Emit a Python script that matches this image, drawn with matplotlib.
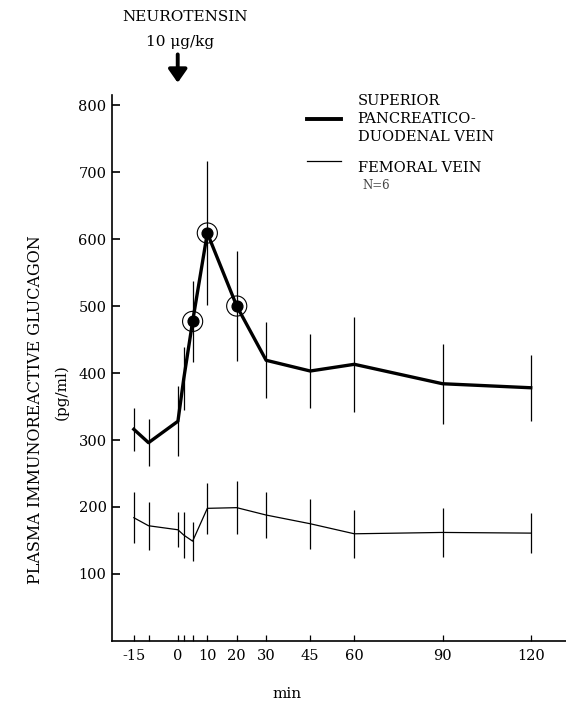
import numpy as np
import matplotlib
matplotlib.use("Agg")
import matplotlib.pyplot as plt

# sampling times (min) and values (pg/ml)
minutes = [-15, -10, 0, 2, 5, 10, 20, 30, 45, 60, 90, 120]
spdv_mean = [316, 296, 328, 392, 477, 609, 500, 419, 403, 413, 384, 378]
spdv_err = [32, 35, 52, 47, 61, 108, 82, 57, 55, 71, 60, 49]
femoral_mean = [184, 172, 166, 158, 149, 198, 199, 188, 175, 160, 162, 161]
femoral_err = [38, 36, 26, 34, 29, 38, 40, 35, 37, 36, 36, 30]
significant = [5, 10, 20]
tick_labels = {-15: "-15", 0: "0", 10: "10", 20: "20", 30: "30", 45: "45",
               60: "60", 90: "90", 120: "120"}
yticks = [100, 200, 300, 400, 500, 600, 700, 800]

plt.rcParams['font.family'] = ['DejaVu Serif']

fig = plt.figure(figsize=(5.66, 7.07), dpi=100)
ax = fig.add_axes([0.198, 0.0934, 0.802, 0.7722])

ax.errorbar(minutes, spdv_mean, yerr=spdv_err, color='black', lw=2.4,
            elinewidth=0.9, capsize=0, zorder=3)
ax.errorbar(minutes, femoral_mean, yerr=femoral_err, color='black', lw=0.9,
            elinewidth=0.9, capsize=0, zorder=3)

# significant points: filled dot with ring
sig_vals = [spdv_mean[minutes.index(t)] for t in significant]
ax.scatter(significant, sig_vals, s=60, color='black', zorder=4)
ax.scatter(significant, sig_vals, s=210, facecolors='none', edgecolors='black',
           linewidths=0.8, zorder=4)

ax.set_xlim(-22.4, 132)
ax.set_ylim(0, 815)
ax.spines['top'].set_visible(False)
ax.spines['right'].set_visible(False)
ax.spines['left'].set_linewidth(1.2)
ax.spines['bottom'].set_linewidth(1.2)

ax.set_xticks(minutes)
ax.set_xticklabels([tick_labels.get(t, "") for t in minutes], fontsize=10.5)
ax.set_yticks(yticks)
ax.set_yticklabels([str(v) for v in yticks], fontsize=10.5)
ax.tick_params(axis='x', direction='in', length=4, width=0.9, pad=6)
ax.tick_params(axis='y', direction='in', length=6, width=1.2, pad=4)

ax.set_xlabel("min", fontsize=11)
ax.xaxis.set_label_coords(0.385, -0.085)

fig.text(0.062, 0.42, "PLASMA IMMUNOREACTIVE GLUCAGON", rotation=90,
         ha='center', va='center', fontsize=11.5)
fig.text(0.108, 0.445, "(pg/ml)", rotation=90, ha='center', va='center',
         fontsize=11)

# injection marker
fig.text(0.327, 0.976, "NEUROTENSIN", ha='center', va='center', fontsize=11)
fig.text(0.318, 0.941, "10 \u03bcg/kg", ha='center', va='center', fontsize=11)
fig.add_artist(matplotlib.patches.FancyArrowPatch(
    (0.314, 0.927), (0.314, 0.879), transform=fig.transFigure,
    arrowstyle='-|>,head_length=5,head_width=3.5', lw=2.8, color='black',
    mutation_scale=1.6))

# legend drawn by hand
fig.add_artist(matplotlib.lines.Line2D([0.542, 0.602], [0.832, 0.832],
                                        transform=fig.transFigure,
                                        color='black', lw=2.8))
fig.add_artist(matplotlib.lines.Line2D([0.542, 0.602], [0.772, 0.772],
                                        transform=fig.transFigure,
                                        color='black', lw=0.9))
fig.text(0.632, 0.867, "SUPERIOR\nPANCREATICO-\nDUODENAL VEIN", ha='left',
         va='top', fontsize=10.5, linespacing=1.35)
fig.text(0.632, 0.762, "FEMORAL VEIN", ha='left', va='center', fontsize=10.5)
fig.text(0.640, 0.738, "N=6", ha='left', va='center', fontsize=8.5,
         color='#444444')

fig.savefig("out.png", dpi=100)
